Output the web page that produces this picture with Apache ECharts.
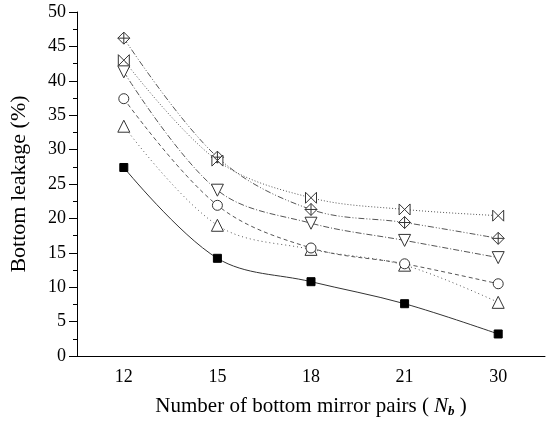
<!DOCTYPE html>
<html><head><meta charset="utf-8">
<script src="https://cdn.jsdelivr.net/npm/echarts@6/dist/echarts.min.js"></script>
<style>html,body{margin:0;padding:0;background:#fff}#c{width:546px;height:423px}</style>
</head><body><div id="c"></div>
<script>
const categories = ['12', '15', '18', '21', '30'];
const yTicks = [0, 50, 5];
const squareVals   = [27.4, 14.2, 10.8, 7.6, 3.2];
const triUpVals    = [33.4, 19.0, 15.5, 13.2, 7.8];
const circleVals   = [37.4, 21.9, 15.7, 13.4, 10.5];
const triDownVals  = [41.3, 24.1, 19.3, 16.8, 14.3];
const crossVals    = [46.2, 28.9, 21.3, 19.4, 17.1];
const bowtieVals   = [43.0, 28.4, 23.0, 21.3, 20.4];

const FONT = '"Liberation Serif", "Times New Roman", serif';
const lineCol = '#555';
function mk(name, data, symbol, size, lineType, opts) {
  return Object.assign({
    name, type: 'line', data, smooth: 0.35, symbol, symbolSize: size,
    lineStyle: { color: lineCol, width: 1, type: lineType },
    itemStyle: { color: '#fff', borderColor: '#333', borderWidth: 1 },
    z: 3
  }, opts || {});
}
const chart = echarts.init(document.getElementById('c'));
chart.setOption({
  animation: false,
  grid: { left: 75, right: 1, top: 12, bottom: 66 },
  xAxis: [{
    type: 'category', data: categories, boundaryGap: true,
    axisLine: { lineStyle: { color: '#000', width: 1 } },
    axisTick: { alignWithLabel: true, length: 7, lineStyle: { color: '#000' } },
    axisLabel: { color: '#000', fontFamily: FONT, fontSize: 18, margin: 12 },
    name: '{a|Number of bottom mirror pairs (}{i|N}{s|b}{a| )}',
    nameLocation: 'middle', nameGap: 39,
    nameTextStyle: {
      rich: {
        a: { fontFamily: FONT, fontSize: 21, color: '#000' },
        i: { fontFamily: FONT, fontSize: 21, fontStyle: 'italic', color: '#000', padding: [0, 0, 0, 5] },
        s: { fontFamily: FONT, fontSize: 13, fontStyle: 'italic', fontWeight: 'bold', color: '#000', verticalAlign: 'bottom', padding: [10, 0, 0, 0] }
      }
    }
  }, {
    type: 'category', data: categories, boundaryGap: true, position: 'bottom',
    axisLine: { show: false },
    axisTick: { alignWithLabel: false, length: 4, lineStyle: { color: '#000' } },
    axisLabel: { show: false }
  }],
  yAxis: {
    type: 'value', min: yTicks[0], max: yTicks[1], interval: yTicks[2],
    axisLine: { show: true, lineStyle: { color: '#000', width: 1 } },
    axisTick: { show: true, length: 8, lineStyle: { color: '#000' } },
    minorTick: { show: true, splitNumber: 2, length: 4, lineStyle: { color: '#000' } },
    splitLine: { show: false },
    axisLabel: { color: '#000', fontFamily: FONT, fontSize: 18, margin: 11 },
    name: 'Bottom leakage (%)', nameLocation: 'middle', nameGap: 47,
    nameTextStyle: { fontFamily: FONT, fontSize: 22, color: '#000' }
  },
  series: [
    mk('sq', squareVals, 'rect', 8, 'solid', { itemStyle: { color: '#000', borderColor: '#000' }, lineStyle: { color: '#333', width: 1, type: 'solid' } }),
    mk('tu', triUpVals, 'triangle', 12, [1, 3]),
    mk('ci', circleVals, 'circle', 10, [4, 3]),
    mk('td', triDownVals, 'triangle', 12, [6, 2, 1, 2], { symbolRotate: 180 }),
    mk('cr', crossVals, 'path://M0,-1 L1,0 L0,1 L-1,0 Z M0,-1 L0,1 M-1,0 L1,0', 12, [6, 2, 1, 2, 1, 2]),
    mk('bt', bowtieVals, 'path://M-1,-1 L1,1 L1,-1 L-1,1 Z', 11, [1, 2])
  ]
});
</script></body></html>
